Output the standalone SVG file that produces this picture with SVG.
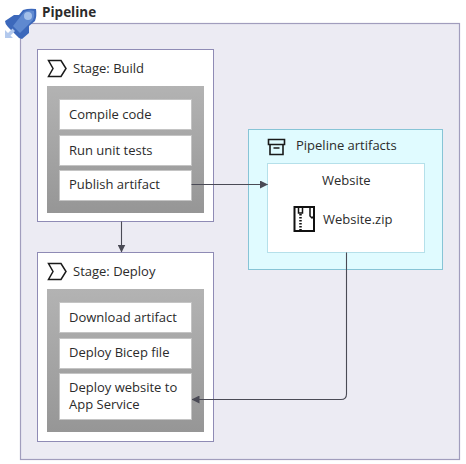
<svg xmlns="http://www.w3.org/2000/svg" width="466" height="464" viewBox="0 0 466 464">
<style>
text{font-family:"Open Sans","Noto Sans","Liberation Sans",sans-serif;font-size:13px;fill:#2b2b2b}
.stage{fill:#fff;stroke:#8f8bb5;stroke-width:1}
.band{fill:url(#g)}
.step{fill:#fff;stroke:#c4c4c4;stroke-width:1}
.icon{fill:none;stroke:#1a1a1a;stroke-width:1.6}
.chev{fill:none;stroke:#1a1a1a;stroke-width:1.500}
.c{fill:none;stroke:#4a4a55;stroke-width:1.1}
</style>
<defs>
<linearGradient id="g" x1="0" y1="0" x2="0" y2="1"><stop offset="0" stop-color="#b3b3b3"/><stop offset="1" stop-color="#969696"/></linearGradient>
<marker id="a" viewBox="0 0 8 8" refX="7.5" refY="4" markerWidth="8" markerHeight="8" orient="auto" markerUnits="userSpaceOnUse"><path d="M0 0L8 4L0 8Z" fill="#4a4a55"/></marker>
</defs>
<g id="pipeline">
<rect x="20.5" y="23.5" width="439" height="436" fill="#ecebf3" stroke="#a19dbd" stroke-width="1.2"/>
<path d="M5 21L14 15H19L23 10Q29 8 36 9Q37 16 35 21L29 26V33L22 39Q19 39 17 36L8 27Q5 24 5 21Z" fill="#3c68bb"/>
<path d="M13 26L24 12Q29 9 34 11Q35 16 33 20L20 33Z" fill="#5f89d0"/>
<circle cx="28" cy="16" r="4" fill="#a3bfe9"/>
<path d="M5 30V38H13L10.500 35.500L15 31L12.500 28.500L8 33Z" fill="#b3c9ed"/>
<text x="42" y="17" style="font-weight:700;font-size:13.5px">Pipeline</text>
</g>
<g id="stage-build">
<rect class="stage" x="37.5" y="49.5" width="176" height="172"/>
<path class="chev" d="M48.500 60.500H61L66 68.500L61 76.500H48.500L53 68.500Z"/>
<text x="73" y="73">Stage: Build</text>
<rect class="band" x="47" y="86" width="157" height="127"/>
</g>
<g id="step-compile"><rect class="step" x="59.5" y="99.5" width="132" height="30"/><text x="69" y="119">Compile code</text></g>
<g id="step-test"><rect class="step" x="59.5" y="135.5" width="132" height="30"/><text x="69" y="155">Run unit tests</text></g>
<g id="step-publish"><rect class="step" x="59.5" y="170.5" width="132" height="30"/><text x="69" y="189">Publish artifact</text></g>
<g id="stage-deploy">
<rect class="stage" x="37.5" y="252.5" width="176" height="189"/>
<path class="chev" d="M48.500 263.500H61L66 271.500L61 279.500H48.500L53 271.500Z"/>
<text x="73" y="276">Stage: Deploy</text>
<rect class="band" x="47" y="289" width="157" height="143"/>
</g>
<g id="step-download"><rect class="step" x="59.5" y="302.5" width="132" height="30"/><text x="69" y="322">Download artifact</text></g>
<g id="step-bicep"><rect class="step" x="59.5" y="338.5" width="132" height="30"/><text x="69" y="357">Deploy Bicep file</text></g>
<g id="step-website"><rect class="step" x="59.5" y="373.5" width="132" height="46"/><text x="69" y="392">Deploy website to</text><text x="69" y="409">App Service</text></g>
<g id="artifacts">
<rect x="248.5" y="129.5" width="194" height="140" fill="#e0fbff" stroke="#87c4d6" stroke-width="1"/>
<path class="icon" d="M268.5 139.5H284.5V144.5H268.5Z M270 144.5V154.5H283V144.5 M273.5 148H279.5"/>
<text x="296" y="150">Pipeline artifacts</text>
</g>
<g id="website">
<rect x="267.5" y="163.500" width="157" height="89" fill="#fff" stroke="#b5e0ea" stroke-width="1"/>
<text x="322" y="185">Website</text>
<path d="M294.500 207H314V231H294.500Z" fill="none" stroke="#111" stroke-width="2"/>
<path d="M298.500 207V213H302.500V207M310 207V216L312 218L314 216" fill="none" stroke="#111" stroke-width="1.500"/>
<path d="M300.500 214V230" fill="none" stroke="#111" stroke-width="2.500" stroke-dasharray="1.500 1.500"/>
<text x="323" y="224">Website.zip</text>
</g>
<g id="connectors">
<path class="c" d="M191.500 184.500H267.500" marker-end="url(#a)"/>
<path class="c" d="M121.500 221.500V252" marker-end="url(#a)"/>
<path class="c" d="M346.500 252.500V394Q346.500 399.500 341 399.500H192" marker-end="url(#a)"/>
</g>
</svg>
